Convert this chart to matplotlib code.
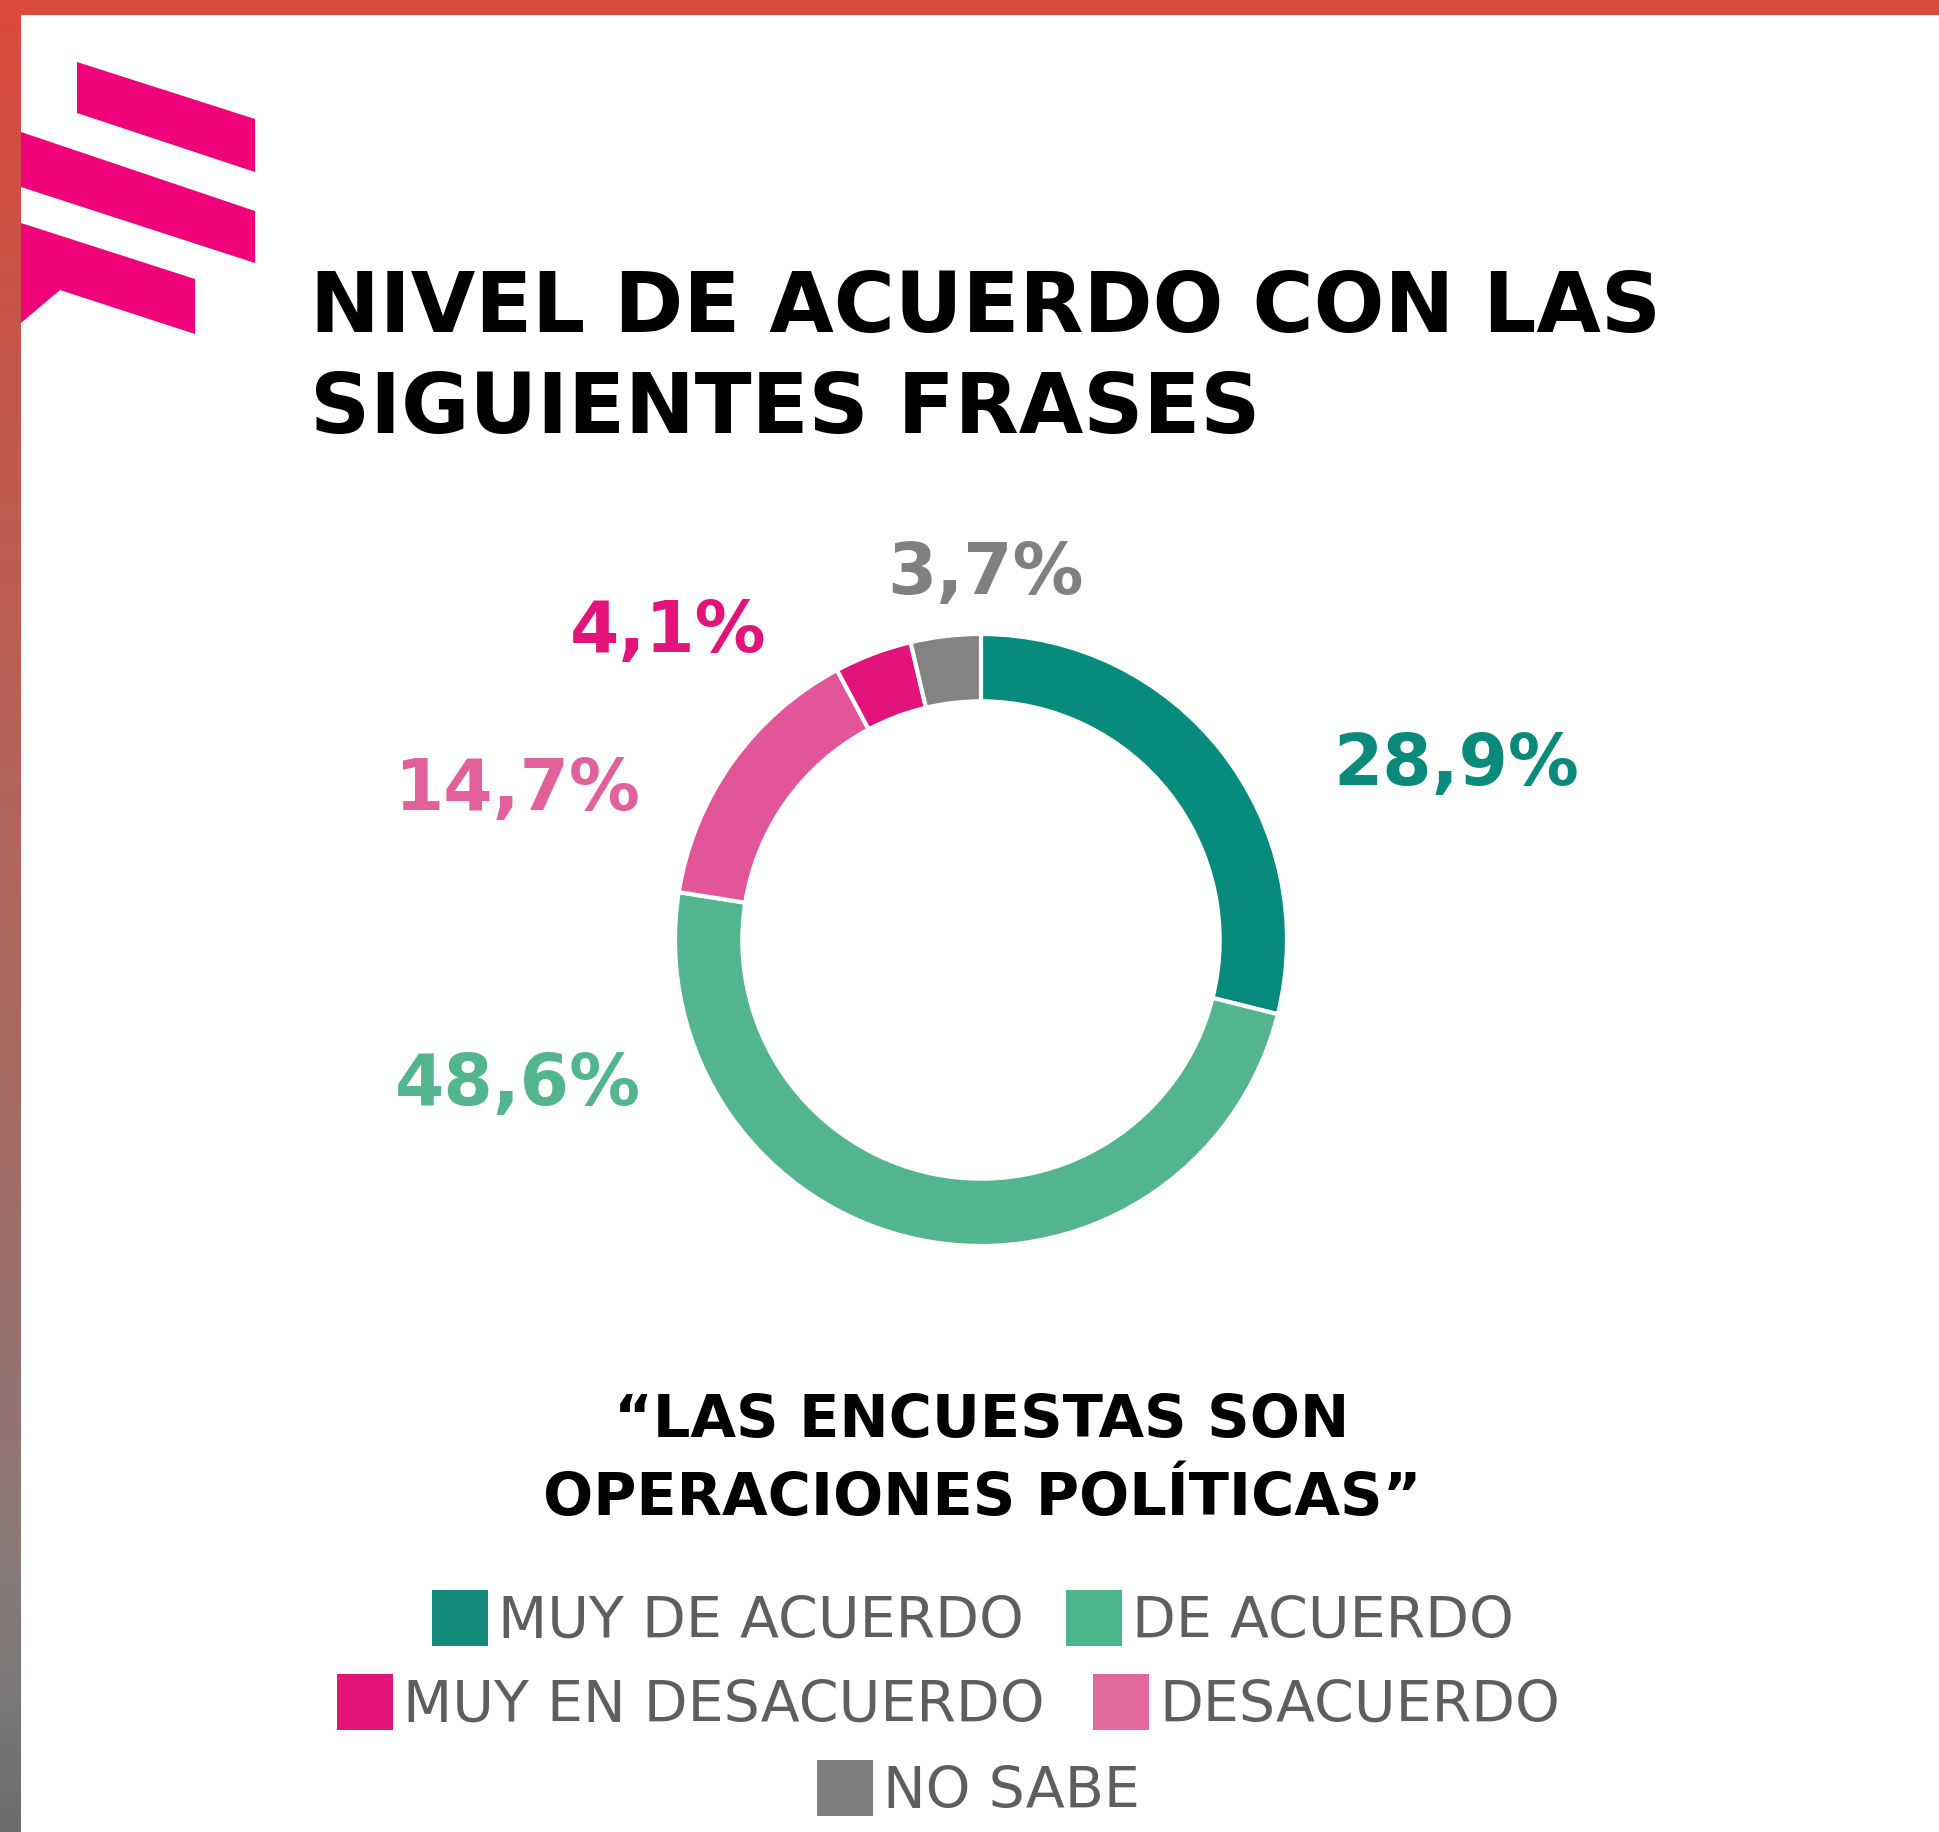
import matplotlib
matplotlib.use("Agg")
import matplotlib.pyplot as plt
import numpy as np
from matplotlib.patches import Polygon, Rectangle
from matplotlib.colors import LinearSegmentedColormap

W, H = 1940, 1832

# data
categories = ["MUY DE ACUERDO", "DE ACUERDO", "DESACUERDO", "MUY EN DESACUERDO", "NO SABE"]
values = [28.9, 48.6, 14.7, 4.1, 3.7]
wedge_colors = ["#068B7C", "#52B590", "#E25598", "#E2137A", "#838383"]
label_colors = ["#0A8A7B", "#52B590", "#E2609C", "#E2147A", "#808080"]
legend_colors = ["#148A7A", "#4DB58C", "#E268A0", "#E3157A", "#7F7F7F"]

title_lines = ["NIVEL DE ACUERDO CON LAS", "SIGUIENTES FRASES"]
subtitle_lines = ["\u201cLAS ENCUESTAS SON", "OPERACIONES POL\u00cdTICAS\u201d"]


def fx(px):
    return px / W


def fy(py):
    return 1 - py / H


fig = plt.figure(figsize=(W / 100, H / 100), dpi=100)
fig.patch.set_facecolor("white")

# frame: red band on top, red-to-grey band on the left
grad = LinearSegmentedColormap.from_list("side", [
    (0.0, "#DC4A3C"), (0.17, "#C8554A"), (0.44, "#B26459"),
    (0.71, "#9B706C"), (0.85, "#8A7B78"), (0.93, "#7A7878"), (1.0, "#6C6C6C")])
ax_side = fig.add_axes([0, 0, fx(21), 1])
ax_side.imshow(np.linspace(0, 1, 400).reshape(-1, 1), aspect="auto", cmap=grad,
               extent=[0, 1, 0, 1])
ax_side.set_axis_off()
fig.add_artist(Rectangle((0, fy(15)), 1, 15 / H, transform=fig.transFigure,
                         facecolor="#DC4A3C", edgecolor="none"))

# logo stripes
stripes = [
    [(77, 62), (255, 119), (255, 172), (77, 113)],
    [(21, 132), (255, 211), (255, 263), (21, 187)],
    [(21, 223), (195, 279), (195, 334), (60, 290), (21, 323)],
]
for pts in stripes:
    fig.add_artist(Polygon([(fx(x), fy(y)) for x, y in pts], closed=True,
                           transform=fig.transFigure, facecolor="#F0037A",
                           edgecolor="none"))

# title
for i, line in enumerate(title_lines):
    fig.text(fx(310), fy(332 + 101 * i), line, fontsize=60, fontweight="bold",
             color="black", ha="left", va="baseline", family="DejaVu Sans")

# donut
cx, cy, r = 981, 940, 306
ax = fig.add_axes([fx(cx - r), fy(cy + r), 2 * r / W, 2 * r / H])
ax.pie(values, colors=wedge_colors, startangle=90, counterclock=False,
       radius=1, wedgeprops=dict(width=0.22, edgecolor="white", linewidth=3))
ax.set_xlim(-1, 1)
ax.set_ylim(-1, 1)
ax.set_aspect("equal")
ax.set_axis_off()

# percentage labels
label_pos = [(1456, 785), (518, 1105), (517, 810), (668, 652), (986, 594)]
for v, c, (lx, ly) in zip(values, label_colors, label_pos):
    txt = f"{v:.1f}".replace(".", ",") + "%"
    fig.text(fx(lx), fy(ly), txt, fontsize=51, fontweight="bold", color=c,
             ha="center", va="baseline")

# subtitle
for i, line in enumerate(subtitle_lines):
    fig.text(fx(982), fy(1437 + 78 * i), line, fontsize=42.5, fontweight="bold",
             color="black", ha="center", va="baseline")

# legend
legend_rows = [
    [(0, 432), (1, 1066)],
    [(3, 337), (2, 1093)],
    [(4, 817)],
]
row_tops = [1590, 1674, 1760]
for row, top in zip(legend_rows, row_tops):
    for idx, x0 in row:
        fig.add_artist(Rectangle((fx(x0), fy(top + 56)), 56 / W, 56 / H,
                                 transform=fig.transFigure,
                                 facecolor=legend_colors[idx], edgecolor="none"))
        fig.text(fx(x0 + 66), fy(top + 48), categories[idx], fontsize=41,
                 color="#5E5E5E", ha="left", va="baseline")

fig.savefig("out.png", dpi=100)
